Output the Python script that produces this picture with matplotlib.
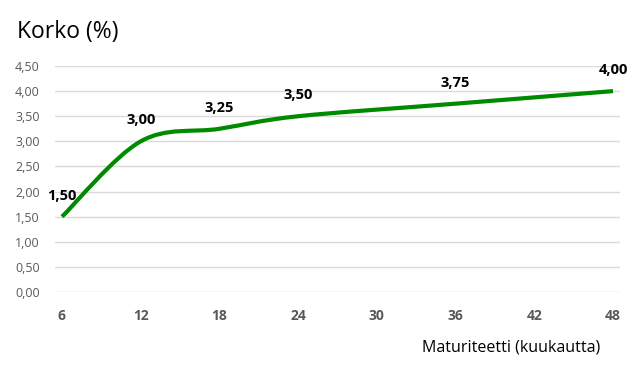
import matplotlib
matplotlib.use("Agg")
import matplotlib.pyplot as plt
from matplotlib.path import Path
from matplotlib.patches import PathPatch

plt.rcParams["font.family"] = ["Open Sans", "DejaVu Sans"]

kuukaudet = [6, 12, 18, 24, 36, 48]
korko = [1.50, 3.00, 3.25, 3.50, 3.75, 4.00]
x_ticks = [6, 12, 18, 24, 30, 36, 42, 48]
y_ticks = [0, 0.5, 1.0, 1.5, 2.0, 2.5, 3.0, 3.5, 4.0, 4.5]


def fi(v):
    return f"{v:.2f}".replace(".", ",")


# smooth line like excel: cubic bezier segments through the points
def smooth_path(xs, ys):
    pts = list(zip(xs, ys))
    verts = [pts[0]]
    codes = [Path.MOVETO]
    n = len(pts)
    for i in range(n - 1):
        p0 = pts[i - 1] if i > 0 else pts[i]
        p1 = pts[i]
        p2 = pts[i + 1]
        p3 = pts[i + 2] if i + 2 < n else pts[i + 1]
        c1 = (p1[0] + (p2[0] - p0[0]) / 6, p1[1] + (p2[1] - p0[1]) / 6)
        c2 = (p2[0] - (p3[0] - p1[0]) / 6, p2[1] - (p3[1] - p1[1]) / 6)
        verts += [c1, c2, p2]
        codes += [Path.CURVE4] * 3
    return Path(verts, codes)


fig = plt.figure(figsize=(6.35, 3.74), dpi=100)
ax = fig.add_axes([55 / 635, 1 - 292 / 374, 565 / 635, 226 / 374])

ax.add_patch(PathPatch(smooth_path(kuukaudet, korko), facecolor="none",
                       edgecolor="#008a00", lw=3, capstyle="butt",
                       joinstyle="round", zorder=3, clip_on=False))

for x, y in zip(kuukaudet, korko):
    ax.annotate(fi(y), (x, y), xytext=(0, 15), textcoords="offset points",
                ha="center", va="center", fontsize=10.5, fontweight="bold",
                color="black")

ax.set_xlim(6 - 7 / 13.12, 48 + 7 / 13.12)
ax.set_ylim(0, 4.5)
ax.set_xticks(x_ticks)
ax.set_xticklabels([str(t) for t in x_ticks], fontsize=10,
                   fontweight="bold", color="#595959")
ax.set_yticks(y_ticks)
ax.set_yticklabels([fi(t) for t in y_ticks], fontsize=9, color="#595959")
ax.tick_params(axis="both", length=0)
ax.tick_params(axis="y", pad=11)
ax.tick_params(axis="x", pad=12)
ax.grid(axis="y", color="#dadada", lw=1)
ax.set_axisbelow(True)
for s in ax.spines.values():
    s.set_visible(False)

fig.text(17 / 635, 1 - 38 / 374, "Korko (%)", fontsize=16.5,
         va="baseline", ha="left", color="black")
fig.text(600 / 635, 1 - 352 / 374, "Maturiteetti (kuukautta)",
         fontsize=11.5, va="baseline", ha="right", color="black")

fig.savefig("out.png", dpi=100)
